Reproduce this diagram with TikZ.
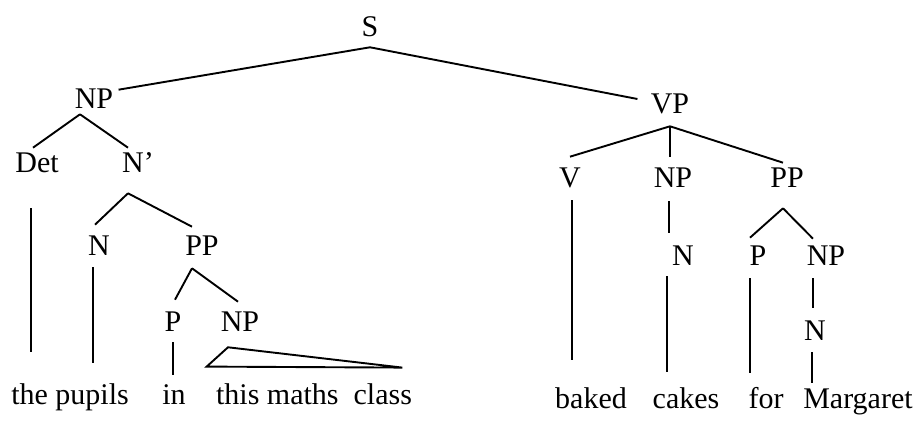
\documentclass[tikz,border=0pt]{standalone}
\usepackage{fontspec}
\setmainfont{Liberation Serif}
\begin{document}
\begin{tikzpicture}[
  x=0.5pt, y=-0.5pt,
  cat/.style={inner sep=2.5pt, text height=9.9pt, text depth=0pt,
              font=\fontsize{15}{18}\selectfont},
  word/.style={anchor=base, inner sep=2.5pt, text height=10pt, text depth=3pt,
               font=\fontsize{15}{18}\selectfont},
  branch/.style={draw, line width=0.95pt}
]
  \useasboundingbox (0,0) rectangle (922,421);
  % categories
  \node[cat] (s)    at (370,27)  {S};
  \node[cat] (np1)  at (94,99)   {NP};
  \node[cat] (vp)   at (670,104) {VP};
  \node[cat] (det)  at (37,163)  {Det};
  \node[cat] (nbar) at (138,163) {N’};
  \node[cat] (n1)   at (99,246)  {N};
  \node[cat] (pp1)  at (202,246) {PP};
  \node[cat] (p1)   at (173,322) {P};
  \node[cat] (np2)  at (240,322) {NP};
  \node[cat] (v)    at (570,178) {V};
  \node[cat] (np3)  at (673,178) {NP};
  \node[cat] (pp2)  at (787,178) {PP};
  \node[cat] (n2)   at (683,256) {N};
  \node[cat] (p2)   at (758,256) {P};
  \node[cat] (np4)  at (826,256) {NP};
  \node[cat] (n3)   at (815,331) {N};
  % words
  \node[word] (w1) at (70,405)  {the pupils};
  \node[word] (w2) at (174,405) {in};
  \node[word] (w3) at (314,405) {this maths\ \ class};
  \node[word] (w4) at (591,409) {baked};
  \node[word] (w5) at (686,409) {cakes};
  \node[word] (w6) at (766,409) {for};
  \node[word] (w7) at (858,409) {Margaret};
  % S
  \draw[branch] ([yshift=-2.5pt]s.south) -- ([yshift=-3pt]np1.north east);
  \draw[branch] ([yshift=-2.5pt]s.south) -- ([xshift=-4pt,yshift=2.5pt]vp.west);
  % subject NP
  \draw[branch] ([xshift=-7pt]np1.south) -- ([xshift=-2pt]det.north);
  \draw[branch] ([xshift=-7pt]np1.south) -- ([xshift=-5pt]nbar.north);
  \draw[branch] ([xshift=-5pt,yshift=-7.5pt]nbar.south) -- ([xshift=-2pt,yshift=3pt]n1.north);
  \draw[branch] ([xshift=-5pt,yshift=-7.5pt]nbar.south) -- ([xshift=-5pt,yshift=2pt]pp1.north);
  \draw[branch] ([xshift=-5pt,yshift=-3.5pt]pp1.south) -- ([xshift=1pt,yshift=3.5pt]p1.north);
  \draw[branch] ([xshift=-5pt,yshift=-3.5pt]pp1.south) -- ([xshift=-1pt,yshift=2.5pt]np2.north);
  \draw[branch] ([xshift=-3pt,yshift=-15pt]det.south) -- ([xshift=-3pt,yshift=14pt]det.south |- w1.north);
  \draw[branch] ([xshift=-3pt,yshift=-3pt]n1.south) -- ([xshift=-3pt,yshift=8.5pt]n1.south |- w1.north);
  \draw[branch] ([yshift=-2.5pt]p1.south) -- ([yshift=2.5pt]p1.south |- w2.north);
  \draw[branch] ([xshift=-6pt,yshift=-5pt]np2.south)
    -- ([xshift=-2pt,yshift=6.5pt]w3.north west)
    -- ([xshift=-7.5pt,yshift=6pt]w3.north east) -- cycle;
  % VP
  \draw[branch] ([yshift=-3.5pt]vp.south) -- ([yshift=3pt]v.north);
  \draw[branch] ([yshift=-3.5pt]vp.south) -- ([yshift=3pt]vp.south |- np3.north);
  \draw[branch] ([yshift=-3.5pt]vp.south) -- ([xshift=-2pt]pp2.north);
  \draw[branch] ([xshift=1pt,yshift=-3.5pt]v.south) -- ([xshift=1pt,yshift=12pt]v.south |- w4.north);
  \draw[branch] ([xshift=-2pt,yshift=-4pt]np3.south) -- ([xshift=-2pt,yshift=4pt]np3.south |- n2.north);
  \draw[branch] ([xshift=-3pt,yshift=-2.5pt]np3.south |- n2.south) -- ([xshift=-3pt,yshift=6pt]np3.south |- w5.north);
  \draw[branch] ([xshift=-2pt,yshift=-7.5pt]pp2.south) -- ([xshift=-4pt,yshift=1.5pt]p2.north);
  \draw[branch] ([xshift=-2pt,yshift=-7.5pt]pp2.south) -- ([xshift=-6.5pt,yshift=1pt]np4.north);
  \draw[branch] ([xshift=-4pt,yshift=-3.5pt]p2.south) -- ([xshift=-4pt,yshift=5.5pt]p2.south |- w6.north);
  \draw[branch] ([xshift=-1pt,yshift=-3.5pt]n3.north |- np4.south) -- ([xshift=-1pt,yshift=4pt]n3.north);
  \draw[branch] ([xshift=-1.5pt,yshift=-3pt]n3.south) -- ([xshift=-1.5pt,yshift=0.5pt]n3.south |- w7.north);
\end{tikzpicture}
\end{document}
